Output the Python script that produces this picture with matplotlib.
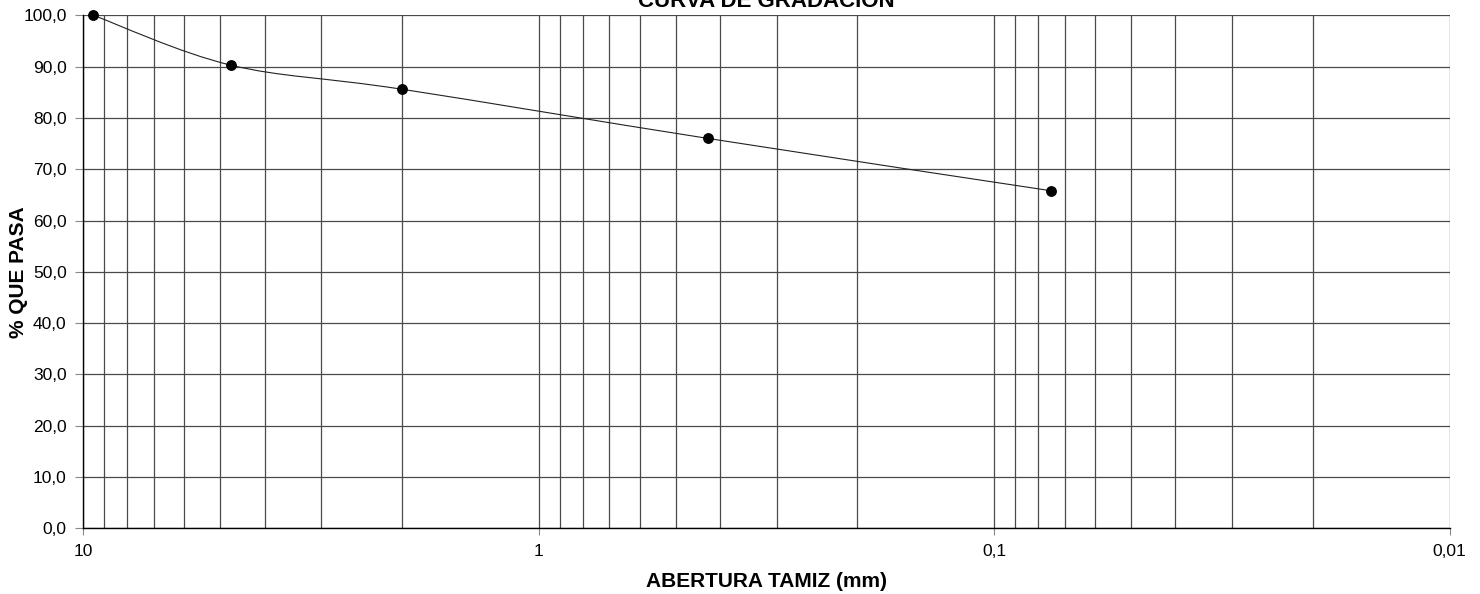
import matplotlib
matplotlib.use("Agg")
import numpy as np
import matplotlib.pyplot as plt
from matplotlib.path import Path
from matplotlib.patches import PathPatch
from matplotlib.ticker import FixedLocator, FuncFormatter

plt.rcParams["font.family"] = ["Liberation Sans", "DejaVu Sans"]

# sieve openings (mm) and percent passing
abertura = [9.5, 4.75, 2.0, 0.425, 0.075]
pasa = [100.0, 90.3, 85.6, 76.0, 65.8]

x_major = [10, 1, 0.1, 0.01]
x_labels = ["10", "1", "0,1", "0,01"]
y_ticks = list(range(0, 101, 10))

GRID = "#4a4a4a"

fig = plt.figure(figsize=(14.8, 5.94), dpi=100)
ax = fig.add_axes((0.0563, 0.1106, 0.9232, 0.8636))

ax.set_xscale("log")
ax.set_xlim(10, 0.01)
ax.set_ylim(0, 100)

# grid: every integer step inside each decade, every 10 % vertically
minor = [m * 10.0 ** e for e in (-2, -1, 0) for m in range(2, 10)]
ax.xaxis.set_major_locator(FixedLocator(x_major))
ax.xaxis.set_minor_locator(FixedLocator(minor))
ax.xaxis.set_major_formatter(FuncFormatter(lambda v, p: x_labels[x_major.index(v)] if v in x_major else ""))
ax.xaxis.set_minor_formatter(FuncFormatter(lambda v, p: ""))
ax.set_yticks(y_ticks)
ax.yaxis.set_major_formatter(FuncFormatter(lambda v, p: f"{v:.1f}".replace(".", ",")))

for v in minor + x_major:
    ax.axvline(v, color=GRID, lw=0.9, zorder=1)
for v in y_ticks:
    ax.axhline(v, color=GRID, lw=0.9, zorder=1)

ax.tick_params(axis="x", which="major", length=5, width=0.8, color="#888888", pad=6, labelsize=12.5)
ax.tick_params(axis="x", which="minor", length=0)
ax.tick_params(axis="y", length=6, width=0.8, color="#888888", pad=6, labelsize=12.5)

for s in ("top", "right"):
    ax.spines[s].set_visible(False)
for s in ("left", "bottom"):
    ax.spines[s].set_color("black")
    ax.spines[s].set_linewidth(1.0)
    ax.spines[s].set_zorder(3)

# smoothed line (Excel-style Bezier through the points, built in log-x space)
u = np.log10(abertura)
yv = np.array(pasa)
pts = np.column_stack([u, yv])
n = len(pts)
verts = [pts[0]]
codes = [Path.MOVETO]
for i in range(n - 1):
    p0 = pts[i - 1] if i > 0 else pts[i]
    p1 = pts[i]
    p2 = pts[i + 1]
    p3 = pts[i + 2] if i + 2 < n else pts[i + 1]
    c1 = p1 + (p2 - p0) / 6.0
    c2 = p2 - (p3 - p1) / 6.0
    verts += [c1, c2, p2]
    codes += [Path.CURVE4] * 3
verts = np.array(verts)
verts[:, 0] = 10.0 ** verts[:, 0]
ax.add_patch(PathPatch(Path(verts, codes), fill=False, edgecolor="#222222", lw=0.8, zorder=4))

ax.plot(abertura, pasa, linestyle="none", marker="o", markersize=6.8,
        color="black", zorder=5, clip_on=False)

ax.set_xlabel("ABERTURA TAMIZ (mm)", fontsize=15, fontweight="bold", labelpad=10)
ax.set_ylabel("% QUE PASA", fontsize=15, fontweight="bold", labelpad=0)
ax.yaxis.set_label_coords(-0.0405, 0.5)

fig.text(0.5176, 1 - 6.7 / 594, "CURVA DE GRADACION", ha="center", va="baseline",
         fontsize=16, fontweight="bold")

fig.savefig("out.png", dpi=100)
